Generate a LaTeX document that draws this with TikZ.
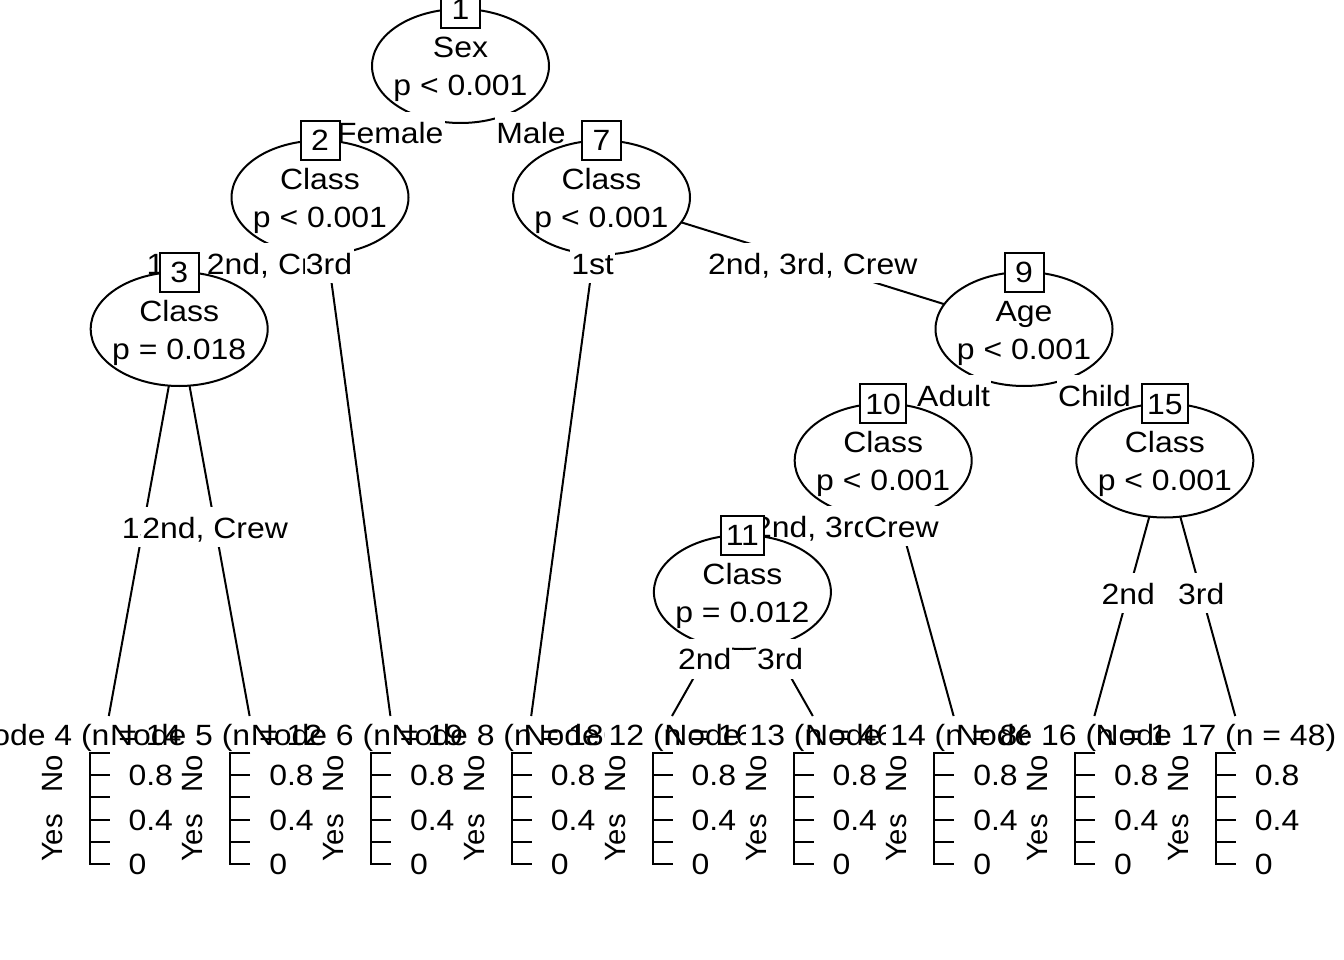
\documentclass[tikz,border=0pt]{standalone}
\usepackage{fontspec}
\setmainfont[FakeStretch=1.09]{Liberation Sans}
\newfontfamily\rotfont{Liberation Sans}
\usepackage{tikz}
\usetikzlibrary{positioning, shapes}

\tikzset{
  splitnode/.style = {draw, ellipse, fill=white, minimum width=177pt, minimum height=114pt, inner sep=0pt},
  idbox/.style     = {draw, rectangle, fill=white, minimum width=39pt, minimum height=39pt, inner xsep=5pt, inner ysep=0pt, text height=21pt, text depth=0pt},
  nodetext/.style  = {anchor=base, inner sep=0pt},
  elabel/.style    = {fill=white, inner xsep=1pt, inner ysep=0pt, text height=31.3pt, text depth=8.7pt},
  ttitle/.style    = {anchor=base, inner sep=0pt},
  ticklab/.style   = {anchor=west, inner sep=0pt, text height=21pt, text depth=0pt},
  barlab/.style    = {rotate=90, inner sep=0pt, font=\rotfont\fontsize{29.3pt}{35pt}\selectfont, text height=21pt, text depth=0pt},
}

\begin{document}
\begin{tikzpicture}[x=1pt, y=-1pt, line width=2pt, font=\fontsize{29.3pt}{35pt}\selectfont]

\useasboundingbox (0,0) rectangle (1344,960);

\coordinate (n1)  at ( 460.5,  66.0);
\coordinate (n2)  at ( 320.0, 197.5);
\coordinate (n3)  at ( 179.2, 329.0);
\coordinate (n7)  at ( 601.5, 197.5);
\coordinate (n9)  at (1024.0, 329.0);
\coordinate (n10) at ( 883.2, 460.5);
\coordinate (n11) at ( 742.4, 592.0);
\coordinate (n15) at (1164.8, 460.5);

\coordinate (t4)  at ( 108.8, 716);
\coordinate (t5)  at ( 249.6, 716);
\coordinate (t6)  at ( 390.4, 716);
\coordinate (t8)  at ( 531.2, 716);
\coordinate (t12) at ( 672.0, 716);
\coordinate (t13) at ( 812.8, 716);
\coordinate (t14) at ( 953.6, 716);
\coordinate (t16) at (1094.4, 716);
\coordinate (t17) at (1235.2, 716);

% node 1
\path [draw] (n1) -- (n2);
\path [draw] (n1) -- (n7);
\node [splitnode] (e1) at (n1)               {};
\node [nodetext ] (v1) at ([yshift=8pt]n1)   {Sex};
\node [nodetext ] (p1) at ([yshift=-30pt]n1) {p < 0.001};
\node [idbox    ] (b1) at ([yshift=57pt]n1)  {1};
\path (n1) -- (n2) node [elabel, pos=0.5] (l2) {Female};
\path (n1) -- (n7) node [elabel, pos=0.5] (l7) {Male};

% node 2
\path [draw] (n2) -- (n3);
\path [draw] (n2) -- (t6);
\node [splitnode] (e2) at (n2)               {};
\node [nodetext ] (v2) at ([yshift=8pt]n2)   {Class};
\node [nodetext ] (p2) at ([yshift=-30pt]n2) {p < 0.001};
\node [idbox    ] (b2) at ([yshift=57pt]n2)  {2};
\path (n2) -- (n3) node [elabel, pos=0.5   ] (l3) {1st, 2nd, Crew};
\path (n2) -- (t6) node [elabel, pos=0.1272] (l6) {3rd};

% node 3
\path [draw] (n3) -- (t4);
\path [draw] (n3) -- (t5);
\node [splitnode] (e3) at (n3)               {};
\node [nodetext ] (v3) at ([yshift=8pt]n3)   {Class};
\node [nodetext ] (p3) at ([yshift=-30pt]n3) {p = 0.018};
\node [idbox    ] (b3) at ([yshift=57pt]n3)  {3};
\path (n3) -- (t4) node [elabel, pos=0.5116] (l4) {1st};
\path (n3) -- (t5) node [elabel, pos=0.5116] (l5) {2nd, Crew};

% node 7
\path [draw] (n7) -- (t8);
\path [draw] (n7) -- (n9);
\node [splitnode] (e7) at (n7)               {};
\node [nodetext ] (v7) at ([yshift=8pt]n7)   {Class};
\node [nodetext ] (p7) at ([yshift=-30pt]n7) {p < 0.001};
\node [idbox    ] (b7) at ([yshift=57pt]n7)  {7};
\path (n7) -- (t8) node [elabel, pos=0.1272] (l8) {1st};
\path (n7) -- (n9) node [elabel, pos=0.5   ] (l9) {2nd, 3rd, Crew};

% node 9
\path [draw] (n9) -- (n10);
\path [draw] (n9) -- (n15);
\node [splitnode] (e9) at (n9)               {};
\node [nodetext ] (v9) at ([yshift=8pt]n9)   {Age};
\node [nodetext ] (p9) at ([yshift=-30pt]n9) {p < 0.001};
\node [idbox    ] (b9) at ([yshift=57pt]n9)  {9};
\path (n9) -- (n10) node [elabel, pos=0.5] (l10) {Adult};
\path (n9) -- (n15) node [elabel, pos=0.5] (l15) {Child};

% node 10
\path [draw] (n10) -- (n11);
\path [draw] (n10) -- (t14);
\node [splitnode] (e10) at (n10)               {};
\node [nodetext ] (v10) at ([yshift=8pt]n10)   {Class};
\node [nodetext ] (p10) at ([yshift=-30pt]n10) {p < 0.001};
\node [idbox    ] (b10) at ([yshift=57pt]n10)  {10};
\path (n10) -- (n11) node [elabel, pos=0.5   ] (l11) {2nd, 3rd};
\path (n10) -- (t14) node [elabel, pos=0.2573] (l14) {Crew};

% node 11
\path [draw] (n11) -- (t12);
\path [draw] (n11) -- (t13);
\node [splitnode] (e11) at (n11)               {};
\node [nodetext ] (v11) at ([yshift=8pt]n11)   {Class};
\node [nodetext ] (p11) at ([yshift=-30pt]n11) {p = 0.012};
\node [idbox    ] (b11) at ([yshift=57pt]n11)  {11};
\path (n11) -- (t12) node [elabel, pos=0.5363] (l12) {2nd};
\path (n11) -- (t13) node [elabel, pos=0.5363] (l13) {3rd};

% node 15
\path [draw] (n15) -- (t16);
\path [draw] (n15) -- (t17);
\node [splitnode] (e15) at (n15)               {};
\node [nodetext ] (v15) at ([yshift=8pt]n15)   {Class};
\node [nodetext ] (p15) at ([yshift=-30pt]n15) {p < 0.001};
\node [idbox    ] (b15) at ([yshift=57pt]n15)  {15};
\path (n15) -- (t16) node [elabel, pos=0.5176] (l16) {2nd};
\path (n15) -- (t17) node [elabel, pos=0.5176] (l17) {3rd};

% terminal panels, each one's white ground hides the tail of the title before it
\foreach \id/\n/\a in {4/145/89.5, 5/129/230.3, 6/196/371.1, 8/180/511.9, 12/168/652.7,
                       13/462/793.5, 14/862/934.3, 16/11/1075.1, 17/48/1215.9} {
  \fill [white] (\a-48, 718) rectangle (\a+81.7, 880);
  \node [ttitle ] (title\id) at (\a, 745)     {Node \id\ (n = \n)};
  \node [barlab ] (no\id)    at (\a-38, 774)  {No};
  \node [barlab ] (yes\id)   at (\a-38, 838)  {Yes};
  \draw (\a+20, 753) -- (\a, 753) -- (\a, 864) -- (\a+20, 864);
  \foreach \ty in {775.2, 797.4, 819.6, 841.8}
    \draw (\a, \ty) -- (\a+20, \ty);
  \node [ticklab] (tk8\id)   at (\a+38, 775.2) {0.8};
  \node [ticklab] (tk4\id)   at (\a+38, 819.6) {0.4};
  \node [ticklab] (tk0\id)   at (\a+38, 864.0) {0};
}

\end{tikzpicture}
\end{document}
